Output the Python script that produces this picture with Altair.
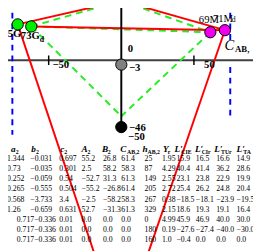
import altair as alt
import pandas as pd

FONT = "Liberation Serif"

# ---------------- diagram data ----------------
pt_names = ["75G", "73G_d", "69M", "71M_d", "W", "N", "K"]
pt_x = [-71.3, -62.0, 61.3, 71.3, 0.0, 0.0, 0.0]
pt_y = [24.7, 23.3, 19.3, 20.7, 41.0, -3.0, -46.0]
pt_fill = ["#00ee00", "#00ee00", "#ee00ee", "#ee00ee", "#ffffff", "#808080", "#000000"]

# extra anchor points (not drawn as circles)
aux_names = ["Gfar", "Mfar", "O", "Tneg", "Tpos", "Bpos", "L50", "Kg"]
aux_x = [-16.0, 16.0, 0.0, -50.0, 50.0, 75.0, 0.0, 0.0]
aux_y = [-140.7, -140.0, 0.0, 0.0, 0.0, 0.0, -50.0, -38.5]

red_from = ["W", "W", "73G_d", "75G", "71M_d"]
red_to = ["75G", "71M_d", "71M_d", "Gfar", "Mfar"]
green_from = ["73G_d", "73G_d", "W", "73G_d", "69M"]
green_to = ["W", "69M", "69M", "Kg", "Kg"]

blue_x = [-75.0, 75.0, 75.0]
blue_y1 = [40.0, 40.0, -4.7]
blue_y2 = [-51.3, 14.0, -40.0]

axis_x = [-82.0, 95.0]
tick_x = [-50.0, 50.0]
tick_half = 3.3

# labels: text, anchor
lab_text = ["75G", "73G", "d", "69M", "71M", "d", "0", "\u22123", "\u221246", "\u221250",
            "\u221250", "50", "C", "AB,"]
lab_anchor = ["75G", "73G_d", "73G_d", "69M", "71M_d", "71M_d", "O", "N", "K", "L50",
              "Tneg", "Tpos", "Bpos", "Bpos"]
# layout for labels: dx, dy, align, size, weight, style
lab_layout = [
    (-6, 10.5, "center", 11, "bold", "normal"),
    (-1, 10.5, "center", 11, "bold", "normal"),
    (11, 14, "center", 8, "bold", "normal"),
    (-1.5, -12.5, "center", 11, "normal", "normal"),
    (-2, -11, "center", 11, "normal", "normal"),
    (9, -10, "center", 8, "normal", "normal"),
    (9.5, -11.5, "center", 11, "bold", "normal"),
    (8, 4, "left", 11, "bold", "normal"),
    (8, 1, "left", 11, "bold", "normal"),
    (7, 4.5, "left", 11, "bold", "normal"),
    (12.5, 5.5, "center", 11, "bold", "normal"),
    (16, 5.5, "center", 11, "bold", "normal"),
    (-1, -15.5, "center", 15, "normal", "italic"),
    (5, -12, "left", 9, "bold", "normal"),
]

# ---------------- table data ----------------
hdr_main = ["a", "b", "c", "A", "B", "C", "h", "Y", "L\u2032", "L\u2032", "L\u2032", "L\u2032"]
hdr_sub = ["2", "2", "2", "2", "2", "AB,2", "AB,2", "r", "CIE", "CIr", "TUr", "TA"]

col_a2 = ["1.344", "0.73", "0.252", "0.265", "0.568", "1.26", "0.717", "0.717", "0.717"]
col_b2 = ["\u22120.031", "\u22120.035", "\u22120.059", "\u22120.555", "\u22123.733", "\u22120.659",
          "\u22120.336", "\u22120.336", "\u22120.336"]
col_c2 = ["0.697", "0.301", "0.54", "0.504", "3.4", "0.631", "0.01", "0.01", "0.01"]
col_A2 = ["55.2", "2.5", "\u221252.7", "\u221255.2", "\u22122.5", "52.7", "0.0", "0.0", "0.0"]
col_B2 = ["26.8", "58.2", "31.3", "\u221226.8", "\u221258.2", "\u221231.3", "0.0", "0.0", "0.0"]
col_C = ["61.4", "58.3", "61.3", "61.4", "58.3", "61.3", "0.0", "0.0", "0.0"]
col_h = ["25", "87", "149", "205", "267", "329", "0", "180", "160"]
col_Yr = ["1.95", "4.29", "2.55", "2.72", "0.38", "2.15", "4.99", "0.19", "1.0"]
col_CIE = ["15.9", "40.4", "23.1", "25.4", "\u221218.5", "18.6", "45.9", "\u221227.6", "\u22120.4"]
col_CIr = ["16.5", "41.4", "23.8", "26.2", "\u221218.1", "19.3", "46.9", "\u221227.4", "0.0"]
col_TUr = ["16.6", "36.2", "22.9", "24.8", "\u221223.9", "19.1", "40.0", "\u221240.0", "0.0"]
col_TA = ["14.9", "28.6", "19.9", "20.4", "\u221219.5", "16.4", "30.0", "\u221230.0", "0.0"]
columns = [col_a2, col_b2, col_c2, col_A2, col_B2, col_C, col_h, col_Yr,
           col_CIE, col_CIr, col_TUr, col_TA]

# layout (plot-area pixels) for table; last two entries: a2/b2 of the three achromatic rows
col_left = [-1, 23, 53, 76, 98, 117, 141, 159, 174, 194, 215, 236, 9, 27]
hdr_left = [3, 24, 54, 76, 97, 116, 139, 160, 172, 193, 213, 236]
sub_left = [8, 29, 58, 82, 103, 123, 144, 165, 179, 200, 220, 243]
row_y = [141.5, 236.0]  # header row (-1) and last row (8)
shifted_rows = [6, 7, 8]

W_, H_ = 253, 243

# ---------------- build ----------------
anchors = dict(zip(pt_names, zip(pt_x, pt_y)))
anchors.update(zip(aux_names, zip(aux_x, aux_y)))

xs = alt.Scale(domain=[-78.0, 90.667], nice=False, zero=False)
ys = alt.Scale(domain=[-128.667, 33.333], nice=False, zero=False)


def seg_df(a, b):
    return pd.DataFrame({
        "x": [anchors[n][0] for n in a], "y": [anchors[n][1] for n in a],
        "x2": [anchors[n][0] for n in b], "y2": [anchors[n][1] for n in b]})


def rule(df, **kw):
    return alt.Chart(df).mark_rule(**kw).encode(
        x=alt.X("x:Q", scale=xs, axis=None),
        y=alt.Y("y:Q", scale=ys, axis=None),
        x2="x2:Q", y2="y2:Q")


layers = []
layers.append(rule(pd.DataFrame({"x": [axis_x[0]], "x2": [axis_x[1]], "y": [0.0], "y2": [0.0]}),
                   color="#404040", strokeWidth=2))
layers.append(rule(pd.DataFrame({"x": tick_x, "x2": tick_x,
                                 "y": [-tick_half] * 2, "y2": [tick_half] * 2}),
                   color="black", strokeWidth=1.5))
layers.append(rule(pd.DataFrame({"x": blue_x, "x2": blue_x, "y": blue_y1, "y2": blue_y2}),
                   color="#0000ff", strokeWidth=2, strokeDash=[6, 5]))
layers.append(rule(seg_df(green_from, green_to), color="#22ee22", strokeWidth=2,
                   strokeDash=[7, 5]))
layers.append(rule(seg_df(red_from, red_to), color="#ff0000", strokeWidth=2))
layers.append(rule(seg_df(["W"], ["K"]), color="black", strokeWidth=2))
pts = pd.DataFrame({"x": pt_x, "y": pt_y, "fill": pt_fill})
layers.append(alt.Chart(pts).mark_circle(size=135, stroke="black", strokeWidth=1, opacity=1).encode(
    x=alt.X("x:Q", scale=xs, axis=None), y=alt.Y("y:Q", scale=ys, axis=None),
    fill=alt.Fill("fill:N", scale=None)))
for t, a, (dx, dy, al, sz, wt, st) in zip(lab_text, lab_anchor, lab_layout):
    d = pd.DataFrame({"x": [anchors[a][0]], "y": [anchors[a][1]], "t": [t]})
    layers.append(alt.Chart(d).mark_text(
        dx=dx, dy=dy, align=al, baseline="middle", fontSize=sz, fontWeight=wt,
        fontStyle=st, font=FONT, color="black").encode(
        x=alt.X("x:Q", scale=xs, axis=None), y=alt.Y("y:Q", scale=ys, axis=None),
        text="t:N"))

cells = []
for c, vals in enumerate(columns):
    for r, v in enumerate(vals):
        cc = c
        if c in (0, 1) and r in shifted_rows:
            cc = 12 + c
        cells.append({"c": cc, "r": r, "t": v})
cells = pd.DataFrame(cells)
hdr = pd.DataFrame({"c": list(range(12)), "r": [-1] * 12, "m": hdr_main, "s": hdr_sub})

ry = alt.Scale(domain=[-1, 8], range=row_y, nice=False, zero=False)
idx = list(range(12))
layers.append(alt.Chart(cells).mark_text(align="left", baseline="middle", fontSize=8,
                                         font=FONT, color="black").encode(
    x=alt.X("c:Q", scale=alt.Scale(domain=list(range(14)), range=col_left, nice=False, zero=False),
            axis=None),
    y=alt.Y("r:Q", scale=ry, axis=None), text="t:N"))
layers.append(alt.Chart(hdr).mark_text(align="left", baseline="middle", fontSize=9.5,
                                       fontStyle="italic", fontWeight="bold", font=FONT,
                                       color="black").encode(
    x=alt.X("c:Q", scale=alt.Scale(domain=idx, range=hdr_left, nice=False, zero=False), axis=None),
    y=alt.Y("r:Q", scale=ry, axis=None), text="m:N"))
layers.append(alt.Chart(hdr).mark_text(align="left", baseline="middle", fontSize=6, dy=3,
                                       fontWeight="bold", font=FONT, color="black").encode(
    x=alt.X("c:Q", scale=alt.Scale(domain=idx, range=sub_left, nice=False, zero=False), axis=None),
    y=alt.Y("r:Q", scale=ry, axis=None), text="s:N"))

chart = alt.layer(*layers).resolve_scale(x="independent", y="independent").properties(
    width=W_, height=H_, autosize=alt.AutoSizeParams(type="none"), padding=0
).configure_view(stroke=None)

chart.save("out.html", embed_options={"renderer": "svg", "actions": False})
